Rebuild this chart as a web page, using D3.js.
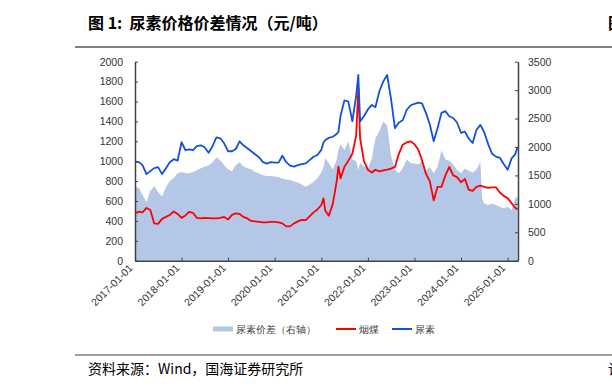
<!DOCTYPE html>
<html>
  <head>
    <meta charset="utf-8">
    <title></title>
    <script src="https://d3js.org/d3.v7.min.js" charset="utf-8"></script>
    <style type="text/css">
      body { margin: 0; background: #fff; }
      text { font-family: "Liberation Sans", Arial, sans-serif; }
      .cjk { font-family: "Noto Sans CJK SC", sans-serif; }
    </style>
  </head>
  <body>
    <script type="text/javascript">

      // Monthly readings (yuan/ton), a few extra points around the spikes
      var dates = [
        "2017-01-01","2017-02-01","2017-03-01","2017-04-01","2017-05-01","2017-06-01","2017-07-01","2017-08-01","2017-09-01","2017-10-01","2017-11-01","2017-12-01",
        "2018-01-01","2018-02-01","2018-03-01","2018-04-01","2018-05-01","2018-06-01","2018-07-01","2018-08-01","2018-09-01","2018-10-01","2018-11-01","2018-12-01",
        "2019-01-01","2019-02-01","2019-03-01","2019-04-01","2019-05-01","2019-06-01","2019-07-01","2019-08-01","2019-09-01","2019-10-01","2019-11-01","2019-12-01",
        "2020-01-01","2020-02-01","2020-03-01","2020-04-01","2020-05-01","2020-06-01","2020-07-01","2020-08-01","2020-09-01","2020-10-01","2020-11-01","2020-12-01",
        "2021-01-01","2021-01-18","2021-02-01","2021-03-01","2021-04-01","2021-05-01","2021-05-15","2021-06-01","2021-07-01","2021-08-01","2021-09-01","2021-10-01","2021-10-18","2021-11-01","2021-12-01",
        "2022-01-01","2022-02-01","2022-03-01","2022-04-01","2022-05-01","2022-06-01","2022-07-01","2022-08-01","2022-09-01","2022-10-01","2022-11-01","2022-12-01",
        "2023-01-01","2023-02-01","2023-03-01","2023-04-01","2023-05-01","2023-06-01","2023-07-01","2023-08-01","2023-09-01","2023-10-01","2023-11-01","2023-12-01",
        "2024-01-01","2024-02-01","2024-03-01","2024-04-01","2024-05-01","2024-06-01","2024-06-15","2024-07-01","2024-08-01","2024-09-01","2024-10-01","2024-11-01","2024-12-01",
        "2025-01-01","2025-02-01","2025-03-01","2025-03-20"
      ];

      // 尿素
      var urea = [
        1741,1733,1680,1523,1575,1628,1645,1523,1628,1733,1785,1759,
        2083,1943,1960,1943,2013,2030,1995,1899,2013,2170,2153,2065,
        1925,1925,1960,2100,2030,1978,1925,1873,1820,1733,1706,1733,
        1724,1724,1846,1733,1671,1654,1680,1700,1712,1770,1829,1860,
        1950,2080,2122,2160,2180,2230,2260,2550,2820,2800,2450,2900,3266,2450,2540,
        2660,2740,2700,2980,3150,3266,2850,2330,2430,2470,2650,2730,
        2760,2780,2767,2600,2400,2100,2330,2600,2630,2540,2510,2430,
        2250,2270,2150,2070,2300,2388,2330,2260,2050,1880,1830,1810,1700,
        1600,1800,1870,2000
      ];

      // 烟煤
      var coal = [
        833,863,849,928,893,656,648,735,770,805,866,823,
        753,796,858,840,753,744,753,749,744,744,753,770,
        726,805,831,823,770,744,700,691,683,674,674,683,
        683,674,656,604,604,656,691,718,715,780,850,900,
        980,1097,880,790,1000,1390,1653,1450,1650,1760,1880,2200,3030,2150,1750,
        1600,1550,1600,1570,1590,1600,1620,1650,1880,2040,2080,2100,
        2050,1950,1770,1530,1400,1060,1300,1300,1500,1650,1500,1470,
        1380,1440,1250,1230,1300,1320,1310,1300,1280,1290,1290,1200,1140,
        1100,1010,930,900
      ];

      // 尿素价差（右轴）
      var spread = [
        1302,1278,1155,1033,1225,1313,1208,1129,1295,1400,1453,1540,
        1558,1540,1540,1558,1593,1628,1654,1680,1733,1820,1768,1680,
        1610,1575,1680,1733,1663,1628,1610,1558,1540,1505,1488,1488,
        1479,1470,1444,1426,1418,1391,1374,1340,1302,1340,1390,1450,
        1550,1650,1800,1720,1600,1770,1950,2050,1946,2100,1780,1750,1595,1720,1660,
        1620,1800,2150,2280,2450,2380,1850,1600,1540,1620,1780,1720,
        1710,1690,1760,1580,1650,1540,1650,1940,1780,1760,1690,1600,
        1540,1620,1580,1550,1600,1740,1100,1008,980,1000,980,950,920,
        950,890,1100,1130
      ];

      var leftTicks = [0,200,400,600,800,1000,1200,1400,1600,1800,2000];
      var rightTicks = [0,500,1000,1500,2000,2500,3000,3500];
      var yearTicks = ["2017-01-01","2018-01-01","2019-01-01","2020-01-01","2021-01-01","2022-01-01","2023-01-01","2024-01-01","2025-01-01"];

      var parse = d3.timeParse("%Y-%m-%d");
      var rows = dates.map(function(d, i) {
        return { date: parse(d), urea: urea[i], coal: coal[i], spread: spread[i] };
      });

      var width = 612, height = 390;
      var svg = d3.select("body").append("svg")
          .attr("width", width)
          .attr("height", height);

      svg.append("rect").attr("width", width).attr("height", height).attr("fill", "#fff");

      // Title and rules
      svg.append("text")
          .attr("class", "cjk")
          .attr("x", 88).attr("y", 29)
          .style("font-size", "16px").style("font-weight", "bold").style("white-space", "pre")
          .attr("fill", "#000")
          .text("图 1:  尿素价格价差情况（元/吨）");
      // next figure's title, cut off by the page edge
      svg.append("text")
          .attr("class", "cjk")
          .attr("x", 608).attr("y", 29)
          .style("font-size", "16px").style("font-weight", "bold")
          .text("图");
      svg.append("line").attr("x1", 75).attr("x2", 612).attr("y1", 47).attr("y2", 47)
          .attr("stroke", "#7f7f7f").attr("stroke-width", 2);
      svg.append("line").attr("x1", 75).attr("x2", 612).attr("y1", 355).attr("y2", 355)
          .attr("stroke", "#7f7f7f").attr("stroke-width", 1.5);
      svg.append("text")
          .attr("class", "cjk")
          .attr("x", 88).attr("y", 374)
          .style("font-size", "14px")
          .text("资料来源：Wind，国海证券研究所");
      svg.append("text")
          .attr("class", "cjk")
          .attr("x", 608).attr("y", 374)
          .style("font-size", "14px")
          .text("请");

      // Scales
      var x = d3.scaleTime()
          .domain([parse("2017-01-01"), parse("2025-03-23")])
          .range([135, 518]);
      var yL = d3.scaleLinear().domain([0, 2000]).range([260.7, 61.7]);
      var yR = d3.scaleLinear().domain([0, 3500]).range([260.7, 61.7]);

      // Spread area (right axis)
      svg.append("path")
          .datum(rows)
          .attr("fill", "#b4c7e7")
          .attr("d", d3.area()
              .x(function(d) { return x(d.date); })
              .y0(yR(0))
              .y1(function(d) { return yR(d.spread); }));

      var lineOf = function(key) {
        return d3.line()
            .x(function(d) { return x(d.date); })
            .y(function(d) { return yR(d[key]); });
      };

      svg.append("path").datum(rows)
          .attr("fill", "none").attr("stroke", "#ff0000").attr("stroke-width", 1.8)
          .attr("stroke-linejoin", "round")
          .attr("d", lineOf("coal"));

      svg.append("path").datum(rows)
          .attr("fill", "none").attr("stroke", "#1450dc").attr("stroke-width", 1.8)
          .attr("stroke-linejoin", "round")
          .attr("d", lineOf("urea"));

      // Axes
      var axisColor = "#404040";
      var gL = svg.append("g").attr("transform", "translate(135,0)")
          .call(d3.axisLeft(yL).tickValues(leftTicks).tickFormat(d3.format("d"))
              .tickSizeInner(-3).tickSizeOuter(0).tickPadding(12));
      var gR = svg.append("g").attr("transform", "translate(518,0)")
          .call(d3.axisRight(yR).tickValues(rightTicks).tickFormat(d3.format("d"))
              .tickSizeInner(-3).tickSizeOuter(0).tickPadding(10));
      var gX = svg.append("g").attr("transform", "translate(0,260.7)")
          .call(d3.axisBottom(x).tickValues(yearTicks.map(parse)).tickSizeInner(-3).tickSizeOuter(0)
              .tickFormat(d3.timeFormat("%Y-%m-%d")));

      [gL, gR, gX].forEach(function(g) {
        g.select(".domain").attr("stroke", axisColor).attr("stroke-width", 1.5);
        g.selectAll(".tick line").attr("stroke", axisColor);
        g.selectAll("text").attr("fill", "#333").style("font-size", "10.5px")
            .style("font-family", "'Liberation Sans', Arial, sans-serif");
      });

      gX.selectAll("text")
          .attr("text-anchor", "end")
          .attr("dy", null)
          .attr("transform", "translate(-2,8) rotate(-45)")
          .attr("y", 0).attr("x", 0);

      // Legend
      var legend = svg.append("g").attr("class", "cjk").style("font-size", "10px");
      legend.append("rect").attr("x", 213).attr("y", 326.5).attr("width", 20).attr("height", 5).attr("fill", "#b4c7e7");
      legend.append("text").attr("x", 236).attr("y", 333).attr("fill", "#404040").text("尿素价差（右轴）");
      legend.append("line").attr("x1", 336).attr("x2", 356).attr("y1", 329).attr("y2", 329)
          .attr("stroke", "#ff0000").attr("stroke-width", 2);
      legend.append("text").attr("x", 359).attr("y", 333).attr("fill", "#404040").text("烟煤");
      legend.append("line").attr("x1", 392).attr("x2", 412).attr("y1", 329).attr("y2", 329)
          .attr("stroke", "#1450dc").attr("stroke-width", 2);
      legend.append("text").attr("x", 415).attr("y", 333).attr("fill", "#404040").text("尿素");

    </script>
  </body>
</html>
